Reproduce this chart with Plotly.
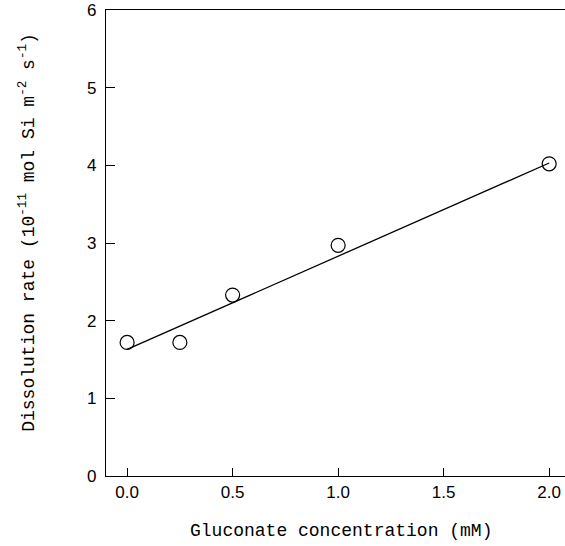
import plotly.graph_objects as go

# measured points
gluconate_mM = [0.0, 0.25, 0.5, 1.0, 2.0]
dissolution_rate = [1.72, 1.72, 2.33, 2.97, 4.02]

# fitted line endpoints
fit_x = [0.0, 2.0]
fit_y = [1.63, 4.03]

x_ticks = [0.0, 0.5, 1.0, 1.5, 2.0]
y_ticks = [0, 1, 2, 3, 4, 5, 6]

x_title = "Gluconate concentration (mM)"
y_title = "Dissolution rate (10<sup>-11</sup> mol Si m<sup>-2</sup> s<sup>-1</sup>)"

fig = go.Figure()
fig.add_trace(go.Scatter(x=fit_x, y=fit_y, mode="lines",
                         line=dict(color="black", width=1.3), showlegend=False))
fig.add_trace(go.Scatter(x=gluconate_mM, y=dissolution_rate, mode="markers",
                         marker=dict(symbol="circle-open", size=14, color="black",
                                     line=dict(width=1.2, color="black")),
                         showlegend=False))

# axis titles as annotations so they sit where the original has them
fig.add_annotation(text=x_title, xref="paper", yref="paper", x=0.512, y=-0.118,
                   showarrow=False, xanchor="center", yanchor="middle",
                   font=dict(family="Liberation Mono", size=18, color="black"))
fig.add_annotation(text=y_title, xref="paper", yref="paper", x=-0.170, y=0.524,
                   showarrow=False, xanchor="center", yanchor="middle", textangle=-90,
                   font=dict(family="Liberation Mono", size=18, color="black"))

fig.update_layout(
    width=565, height=546,
    margin=dict(l=106, r=0, t=10, b=70, autoexpand=False),
    plot_bgcolor="white", paper_bgcolor="white",
    font=dict(family="Liberation Sans", color="black"),
    xaxis=dict(
        range=[-0.1, 2.075], tickvals=x_ticks, ticktext=["0.0", "0.5", "1.0", "1.5", "2.0"],
        ticks="inside", ticklen=8, tickwidth=1, tickcolor="black",
        showline=True, linecolor="black", linewidth=1.2, mirror=True,
        showgrid=False, zeroline=False, automargin=False,
        tickfont=dict(family="Liberation Sans", size=17),
    ),
    yaxis=dict(
        range=[0, 6], tickvals=y_ticks,
        ticks="inside", ticklen=9, tickwidth=1, tickcolor="black",
        showline=True, linecolor="black", linewidth=1.2,
        showgrid=False, zeroline=False, automargin=False,
        ticklabelstandoff=5,
        tickfont=dict(family="Liberation Sans", size=17),
    ),
)

# drop the browser's default page margin so the figure fills the window
fig.write_html("out.html", config={"displayModeBar": False},
               post_script="document.body.style.margin='0px';")
